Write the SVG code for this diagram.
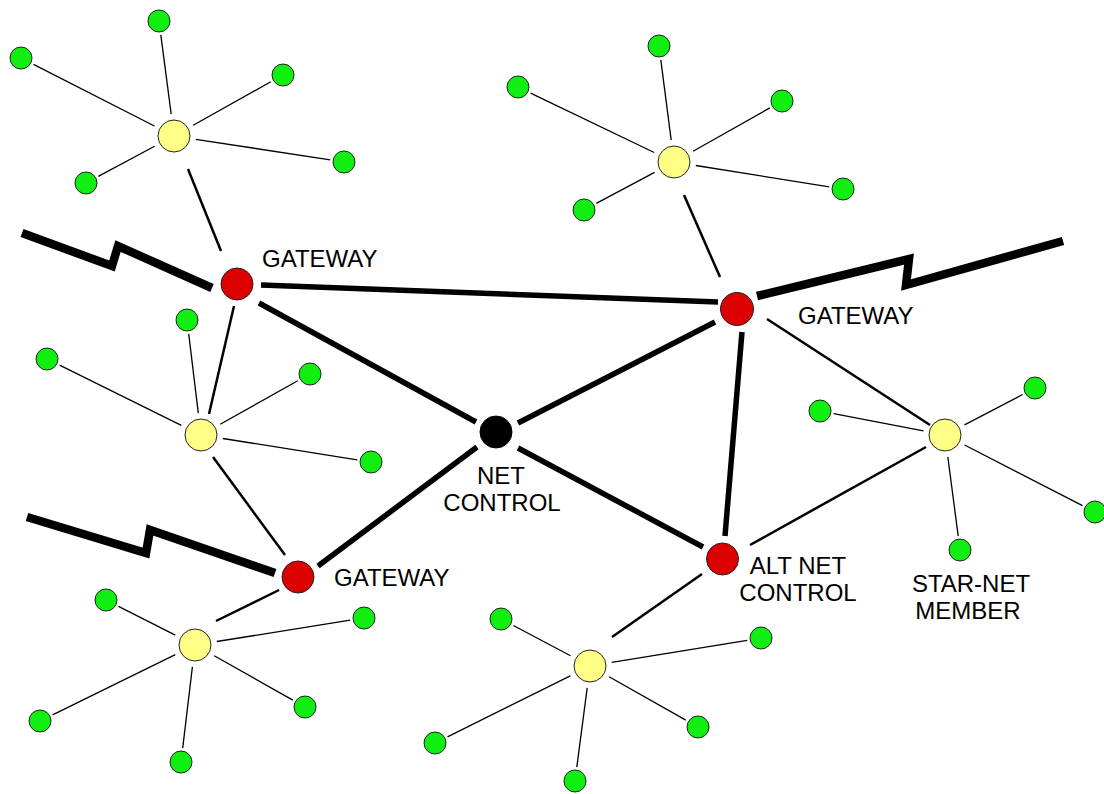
<svg xmlns="http://www.w3.org/2000/svg" width="1104" height="794" viewBox="0 0 1104 794">
<style>
.thin{stroke:#000;stroke-width:1.3;fill:none}
.med{stroke:#000;stroke-width:2.5;fill:none}
.thick{stroke:#000;stroke-width:5.5;fill:none}
.bolt{stroke:#000;stroke-width:8.5;fill:none;stroke-linejoin:miter;stroke-miterlimit:10}
.g{fill:#11EE11;stroke:#222;stroke-width:1}
.y{fill:#FFFF88;stroke:#222;stroke-width:1}
.r{fill:#DD0000;stroke:#222;stroke-width:1}
.b{fill:#000;stroke:#000;stroke-width:1}
.lbl{font-family:"Liberation Sans",Arial,sans-serif;font-size:24px;fill:#000}
</style>
<rect width="1104" height="794" fill="#fff"/>
<g id="connectors">
<line class="thin" x1="171.2" y1="114.2" x2="160.8" y2="34.9"/>
<line class="thin" x1="154.4" y1="126" x2="33.5" y2="64.4"/>
<line class="thin" x1="193.2" y1="125.3" x2="270.8" y2="81.8"/>
<line class="thin" x1="154.6" y1="146.3" x2="98.3" y2="176.4"/>
<line class="thin" x1="195.8" y1="139.3" x2="330.2" y2="159.9"/>
<line class="thin" x1="671.2" y1="140.2" x2="660.8" y2="59.9"/>
<line class="thin" x1="654.2" y1="152.5" x2="530.6" y2="93.1"/>
<line class="thin" x1="693.1" y1="151.2" x2="769.8" y2="107.9"/>
<line class="thin" x1="654.6" y1="172.4" x2="596.3" y2="203.4"/>
<line class="thin" x1="695.8" y1="165.5" x2="829.2" y2="186.8"/>
<line class="thin" x1="198.3" y1="413.2" x2="188.7" y2="333.9"/>
<line class="thin" x1="181.3" y1="425.3" x2="59.6" y2="365.2"/>
<line class="thin" x1="220.2" y1="424.3" x2="297.8" y2="380.8"/>
<line class="thin" x1="222.8" y1="438.5" x2="357.2" y2="459.8"/>
<line class="thin" x1="964.5" y1="424.8" x2="1022.6" y2="394.5"/>
<line class="thin" x1="923.4" y1="430.8" x2="833.7" y2="413.6"/>
<line class="thin" x1="964.6" y1="445" x2="1082.5" y2="505.6"/>
<line class="thin" x1="947.8" y1="456.8" x2="958.2" y2="536.1"/>
<line class="thin" x1="175.3" y1="635.1" x2="118.5" y2="606.3"/>
<line class="thin" x1="216.8" y1="641.5" x2="350.2" y2="620.2"/>
<line class="thin" x1="175.3" y1="654.7" x2="52.6" y2="714.8"/>
<line class="thin" x1="214.2" y1="655.8" x2="292.8" y2="700.1"/>
<line class="thin" x1="192.4" y1="666.9" x2="182.7" y2="748.1"/>
<line class="thin" x1="570.5" y1="655.7" x2="513.4" y2="625.5"/>
<line class="thin" x1="611.7" y1="662.4" x2="747.2" y2="640.3"/>
<line class="thin" x1="570.3" y1="675.8" x2="447.5" y2="736.8"/>
<line class="thin" x1="609.1" y1="676.8" x2="685.8" y2="720.1"/>
<line class="thin" x1="587.2" y1="687.8" x2="576.8" y2="767.1"/>
<line class="med" x1="188" y1="169" x2="221" y2="251"/>
<line class="med" x1="684" y1="195" x2="720" y2="277"/>
<line class="med" x1="234" y1="306" x2="209" y2="414"/>
<line class="med" x1="213" y1="457" x2="285" y2="555"/>
<line class="med" x1="279" y1="590" x2="216" y2="621"/>
<line class="med" x1="767" y1="319" x2="930" y2="425"/>
<line class="med" x1="750" y1="545" x2="926" y2="447"/>
<line class="med" x1="702" y1="574" x2="612" y2="637"/>
<line class="thick" x1="261" y1="285" x2="718" y2="302"/>
<line class="thick" x1="259" y1="303" x2="476" y2="422"/>
<line class="thick" x1="518" y1="423" x2="715" y2="322"/>
<line class="thick" x1="477" y1="447" x2="318" y2="566"/>
<line class="thick" x1="518" y1="448" x2="703" y2="547"/>
<line class="thick" x1="742" y1="332" x2="725" y2="536"/>
<polyline class="bolt" points="22,233 112,266 118,246 212,288"/>
<polyline class="bolt" points="757,296 909,259 906,285 1063,241"/>
<polyline class="bolt" points="27,517 146,553 150,530 275,573"/>
</g>
<g id="gateway-1"><circle class="r" cx="237" cy="284" r="16"/><text class="lbl" x="262" y="267">GATEWAY</text></g>
<g id="gateway-2"><circle class="r" cx="737" cy="309" r="16.5"/><text class="lbl" x="798" y="324">GATEWAY</text></g>
<g id="gateway-3"><circle class="r" cx="298" cy="577" r="16"/><text class="lbl" x="334" y="586">GATEWAY</text></g>
<g id="alt-net-control"><circle class="r" cx="722.5" cy="559" r="16"/><text class="lbl" text-anchor="middle"><tspan x="798" y="574">ALT NET</tspan><tspan x="798" y="601">CONTROL</tspan></text></g>
<g id="net-control"><circle class="b" cx="496" cy="432" r="16"/><text class="lbl" text-anchor="middle"><tspan x="501" y="484">NET</tspan><tspan x="502" y="511">CONTROL</tspan></text></g>
<g id="hub-1"><circle class="y" cx="174" cy="136" r="16"/></g>
<g id="hub-2"><circle class="y" cx="674" cy="162" r="16"/></g>
<g id="hub-3"><circle class="y" cx="201" cy="435" r="16"/></g>
<g id="hub-4"><circle class="y" cx="945" cy="435" r="16"/></g>
<g id="hub-5"><circle class="y" cx="195" cy="645" r="16"/></g>
<g id="hub-6"><circle class="y" cx="590" cy="666" r="16"/></g>
<g id="members-1"><circle class="g" cx="159" cy="21" r="11"/><circle class="g" cx="21" cy="58" r="11"/><circle class="g" cx="283" cy="75" r="11"/><circle class="g" cx="86" cy="183" r="11"/><circle class="g" cx="344" cy="162" r="11"/></g>
<g id="members-2"><circle class="g" cx="659" cy="46" r="11"/><circle class="g" cx="518" cy="87" r="11"/><circle class="g" cx="782" cy="101" r="11"/><circle class="g" cx="584" cy="210" r="11"/><circle class="g" cx="843" cy="189" r="11"/></g>
<g id="members-3"><circle class="g" cx="187" cy="320" r="11"/><circle class="g" cx="47" cy="359" r="11"/><circle class="g" cx="310" cy="374" r="11"/><circle class="g" cx="371" cy="462" r="11"/></g>
<g id="members-4"><circle class="g" cx="1035" cy="388" r="11"/><circle class="g" cx="820" cy="411" r="11"/><circle class="g" cx="1095" cy="512" r="11"/><circle class="g" cx="960" cy="550" r="11"/><text class="lbl" text-anchor="middle"><tspan x="971" y="592">STAR-NET</tspan><tspan x="968" y="619">MEMBER</tspan></text></g>
<g id="members-5"><circle class="g" cx="106" cy="600" r="11"/><circle class="g" cx="364" cy="618" r="11"/><circle class="g" cx="40" cy="721" r="11"/><circle class="g" cx="305" cy="707" r="11"/><circle class="g" cx="181" cy="762" r="11"/></g>
<g id="members-6"><circle class="g" cx="501" cy="619" r="11"/><circle class="g" cx="761" cy="638" r="11"/><circle class="g" cx="435" cy="743" r="11"/><circle class="g" cx="698" cy="727" r="11"/><circle class="g" cx="575" cy="781" r="11"/></g>
</svg>
